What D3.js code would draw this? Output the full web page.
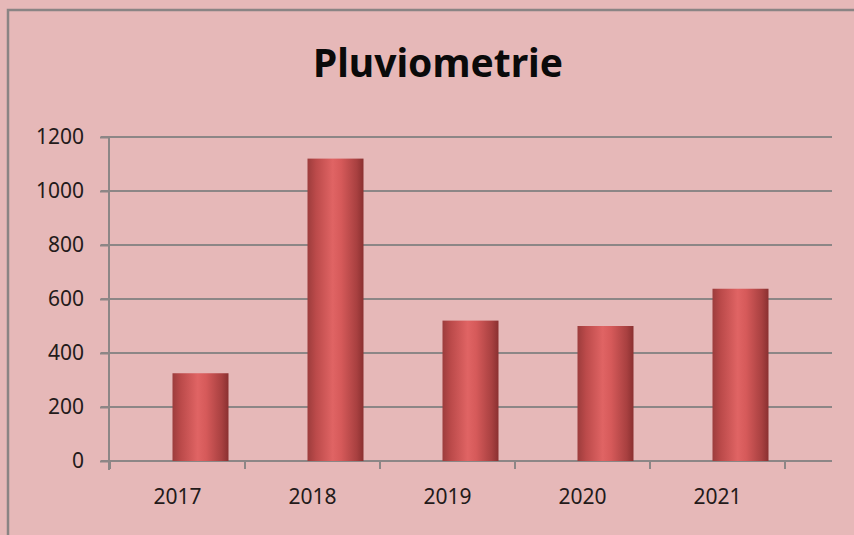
<!DOCTYPE html>
<html>
<head>
<meta charset="utf-8">
<script src="https://cdn.jsdelivr.net/npm/d3@7"></script>
<style>
  body { margin: 0; background: #e6b8b8; overflow: hidden; }
  svg { display: block; }
</style>
</head>
<body>
<div id="chart"></div>
<script>
const years = ['2017', '2018', '2019', '2020', '2021'];
const rainfall = [325, 1120, 520, 500, 638];
const yTicks = [0, 200, 400, 600, 800, 1000, 1200];
const title = 'Pluviometrie';

const width = 854, height = 535;
const plot = {left: 110, right: 785, top: 137, bottom: 461, wallEnd: 832};
const depth = 23; // the 3d offset of the columns

const svg = d3.select('#chart')
    .append('svg')
    .attr('width', width)
    .attr('height', height)

svg.append('rect')
    .attr('width', width).attr('height', height)
    .attr('fill', '#e6b8b8')

// chart frame (only top and left edges are in the picture)
svg.append('path')
    .attr('d', `M8,${height + 5} V10 H${width + 5}`)
    .attr('fill', 'none')
    .attr('stroke', '#8a8484')
    .attr('stroke-width', 2.5)

const x = d3.scaleBand()
    .domain(years)
    .range([plot.left, plot.right])
    .paddingInner(0)

const y = d3.scaleLinear()
    .domain([0, 1200])
    .range([plot.bottom, plot.top])

const defs = svg.append('defs');
const grad = defs.append('linearGradient')
    .attr('id', 'col')
    .attr('x1', '0%').attr('x2', '100%')
    .attr('y1', '0%').attr('y2', '0%');
[['0%', '#9c3c3c'], ['15%', '#bb4a4a'], ['45%', '#e06464'], ['60%', '#d65a5a'], ['88%', '#a84040'], ['100%', '#8a3030']]
    .forEach(([o, c]) => grad.append('stop').attr('offset', o).attr('stop-color', c));

// gridlines
svg.append('g')
    .selectAll('line')
    .data(yTicks.filter(d => d > 0))
    .join('line')
    .attr('x1', plot.left - 9)
    .attr('x2', plot.wallEnd)
    .attr('y1', d => y(d))
    .attr('y2', d => y(d))
    .attr('stroke', '#8c8686')
    .attr('stroke-width', 2)

// y axis
const yAxis = svg.append('g')
    .attr('transform', `translate(${plot.left - 1},0)`)
    .call(d3.axisLeft(y).tickValues(yTicks).tickFormat(d3.format('d')).tickSize(9).tickPadding(16))
yAxis.select('.domain').remove();
yAxis.append('line')
    .attr('y1', plot.top).attr('y2', plot.bottom + 9)
    .attr('stroke', '#8c8686').attr('stroke-width', 2)
yAxis.selectAll('.tick line').attr('stroke', '#8c8686').attr('stroke-width', 2)
yAxis.selectAll('.tick text')
    .attr('fill', '#231a1a')
    .style('font-family', 'Noto Sans, sans-serif')
    .style('font-size', '21px')

// x axis line and ticks
svg.append('line')
    .attr('x1', plot.left - 9).attr('x2', plot.wallEnd)
    .attr('y1', plot.bottom).attr('y2', plot.bottom)
    .attr('stroke', '#8c8686').attr('stroke-width', 2)

svg.append('g')
    .selectAll('line')
    .data(years.concat(['end']))
    .join('line')
    .attr('x1', (d, i) => i < years.length ? x(d) : plot.right)
    .attr('x2', (d, i) => i < years.length ? x(d) : plot.right)
    .attr('y1', plot.bottom)
    .attr('y2', plot.bottom + 8)
    .attr('stroke', '#8c8686').attr('stroke-width', 2)

svg.append('g')
    .selectAll('text')
    .data(years)
    .join('text')
    .attr('x', d => x(d) + x.bandwidth() / 2)
    .attr('y', 504)
    .attr('text-anchor', 'middle')
    .attr('fill', '#231a1a')
    .style('font-family', 'Noto Sans, sans-serif')
    .style('font-size', '21px')
    .text(d => d)

// columns
const barW = 56;
svg.append('g')
    .selectAll('rect')
    .data(years.map((d, i) => ({year: d, value: rainfall[i]})))
    .join('rect')
    .attr('x', d => x(d.year) + x.bandwidth() / 2 + depth - barW / 2)
    .attr('y', d => y(d.value))
    .attr('width', barW)
    .attr('height', d => y(0) - y(d.value))
    .attr('fill', 'url(#col)')

svg.append('text')
    .attr('x', 438)
    .attr('y', 77)
    .attr('text-anchor', 'middle')
    .attr('fill', '#0a0a0a')
    .style('font-family', 'Noto Sans, sans-serif')
    .style('font-weight', 'bold')
    .style('font-size', '39px')
    .text(title)
</script>
</body>
</html>
